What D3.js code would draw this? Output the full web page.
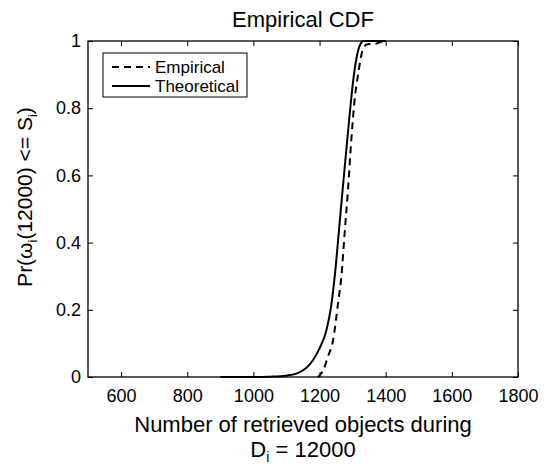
<!DOCTYPE html>
<html>
<head>
<meta charset="utf-8">
<script src="https://cdn.jsdelivr.net/npm/d3@7/dist/d3.min.js"></script>
<style>
  html, body { margin: 0; padding: 0; background: #fff; }
  svg { display: block; font-family: "Liberation Sans", Arial, sans-serif; }
</style>
</head>
<body>
<svg id="chart" width="544" height="468"></svg>
<script>
// Theoretical CDF curve (objects retrieved, probability)
const theoX = [900, 1000, 1050, 1100, 1130, 1150, 1165, 1180, 1200, 1221, 1235, 1246, 1260, 1270, 1281, 1290, 1302, 1310, 1317, 1325, 1332, 1400];
const theoY = [0, 0, 0.001, 0.004, 0.01, 0.02, 0.032, 0.05, 0.085, 0.14, 0.21, 0.3, 0.45, 0.56, 0.676, 0.77, 0.884, 0.94, 0.973, 0.993, 1, 1];

// Empirical CDF curve
const empX = [1195, 1200, 1211, 1225, 1241, 1256, 1266, 1276, 1286, 1296, 1307, 1315, 1322, 1332, 1345, 1370, 1385, 1395];
const empY = [0, 0.005, 0.02, 0.06, 0.11, 0.22, 0.3, 0.43, 0.557, 0.705, 0.834, 0.89, 0.934, 0.978, 0.99, 0.992, 0.997, 1];

const xTicks = [600, 800, 1000, 1200, 1400, 1600, 1800];
const yTicks = [0, 0.2, 0.4, 0.6, 0.8, 1];
const xDomain = [500, 1800];
const yDomain = [0, 1];

const legendLabels = ["Empirical", "Theoretical"];

const svg = d3.select("#chart");
const plot = { left: 88, right: 518, top: 41, bottom: 377 };

const x = d3.scaleLinear().domain(xDomain).range([plot.left, plot.right]);
const y = d3.scaleLinear().domain(yDomain).range([plot.bottom, plot.top]);

const tickFont = 18, labelFont = 22;

// axes: ticks point inward, labels on bottom and left only
const axisStyle = g => {
  g.select(".domain").remove();
  g.selectAll("line").attr("stroke", "#000").attr("stroke-width", 1);
  g.selectAll("text").attr("font-size", tickFont).attr("fill", "#000")
    .attr("font-family", "Liberation Sans, Arial, sans-serif");
};

svg.append("g").attr("transform", `translate(0,${plot.bottom})`)
  .call(d3.axisBottom(x).tickValues(xTicks).tickSizeInner(-5).tickSizeOuter(0).tickPadding(12).tickFormat(d3.format("d")))
  .call(axisStyle);
svg.append("g").attr("transform", `translate(0,${plot.top})`)
  .call(d3.axisTop(x).tickValues(xTicks).tickSizeInner(-5).tickSizeOuter(0).tickFormat(""))
  .call(axisStyle);
svg.append("g").attr("transform", `translate(${plot.left},0)`)
  .call(d3.axisLeft(y).tickValues(yTicks).tickSizeInner(-5).tickSizeOuter(0).tickPadding(7).tickFormat(d => d === 0 || d === 1 ? d3.format("d")(d) : d3.format(".1f")(d)))
  .call(axisStyle);
svg.append("g").attr("transform", `translate(${plot.right},0)`)
  .call(d3.axisRight(y).tickValues(yTicks).tickSizeInner(-5).tickSizeOuter(0).tickFormat(""))
  .call(axisStyle);

// box around the plot area
svg.append("rect")
  .attr("x", plot.left).attr("y", plot.top)
  .attr("width", plot.right - plot.left).attr("height", plot.bottom - plot.top)
  .attr("fill", "none").attr("stroke", "#000").attr("stroke-width", 1.3);

const line = d3.line().x(d => x(d[0])).y(d => y(d[1])).curve(d3.curveMonotoneX);

svg.append("path")
  .datum(d3.zip(theoX, theoY))
  .attr("d", line)
  .attr("fill", "none").attr("stroke", "#000").attr("stroke-width", 2);

svg.append("path")
  .datum(d3.zip(empX, empY))
  .attr("d", line)
  .attr("fill", "none").attr("stroke", "#000").attr("stroke-width", 2)
  .attr("stroke-dasharray", "7,5");

// legend
const leg = svg.append("g");
leg.append("rect")
  .attr("x", 103).attr("y", 53).attr("width", 144).attr("height", 44)
  .attr("fill", "#fff").attr("stroke", "#000").attr("stroke-width", 1);
legendLabels.forEach((name, i) => {
  const cy = 67 + i * 19;
  leg.append("line")
    .attr("x1", 112).attr("x2", 150).attr("y1", cy).attr("y2", cy)
    .attr("stroke", "#000").attr("stroke-width", 2)
    .attr("stroke-dasharray", i === 0 ? "7,5" : null);
  leg.append("text")
    .attr("x", 155).attr("y", cy + 6)
    .attr("font-size", 17).text(name);
});

// title
svg.append("text")
  .attr("x", (plot.left + plot.right) / 2).attr("y", 27)
  .attr("text-anchor", "middle").attr("font-size", labelFont)
  .text("Empirical CDF");

// x label (two lines)
svg.append("text")
  .attr("x", (plot.left + plot.right) / 2).attr("y", 432)
  .attr("text-anchor", "middle").attr("font-size", labelFont)
  .text("Number of retrieved objects during");
const xl2 = svg.append("text")
  .attr("x", (plot.left + plot.right) / 2).attr("y", 457)
  .attr("text-anchor", "middle").attr("font-size", labelFont);
xl2.append("tspan").text("D");
xl2.append("tspan").attr("font-size", 14).attr("dy", 5).text("i");
xl2.append("tspan").attr("dy", -5).text(" = 12000");

// y label
const yl = svg.append("text")
  .attr("transform", `translate(32,197) rotate(-90)`)
  .attr("text-anchor", "middle").attr("font-size", 21);
yl.append("tspan").text("Pr(ω");
yl.append("tspan").attr("font-size", 13).attr("dy", 5).text("i");
yl.append("tspan").attr("dy", -5).text("(12000) <= S");
yl.append("tspan").attr("font-size", 13).attr("dy", 5).text("i");
yl.append("tspan").attr("dy", -5).text(")");
</script>
</body>
</html>
